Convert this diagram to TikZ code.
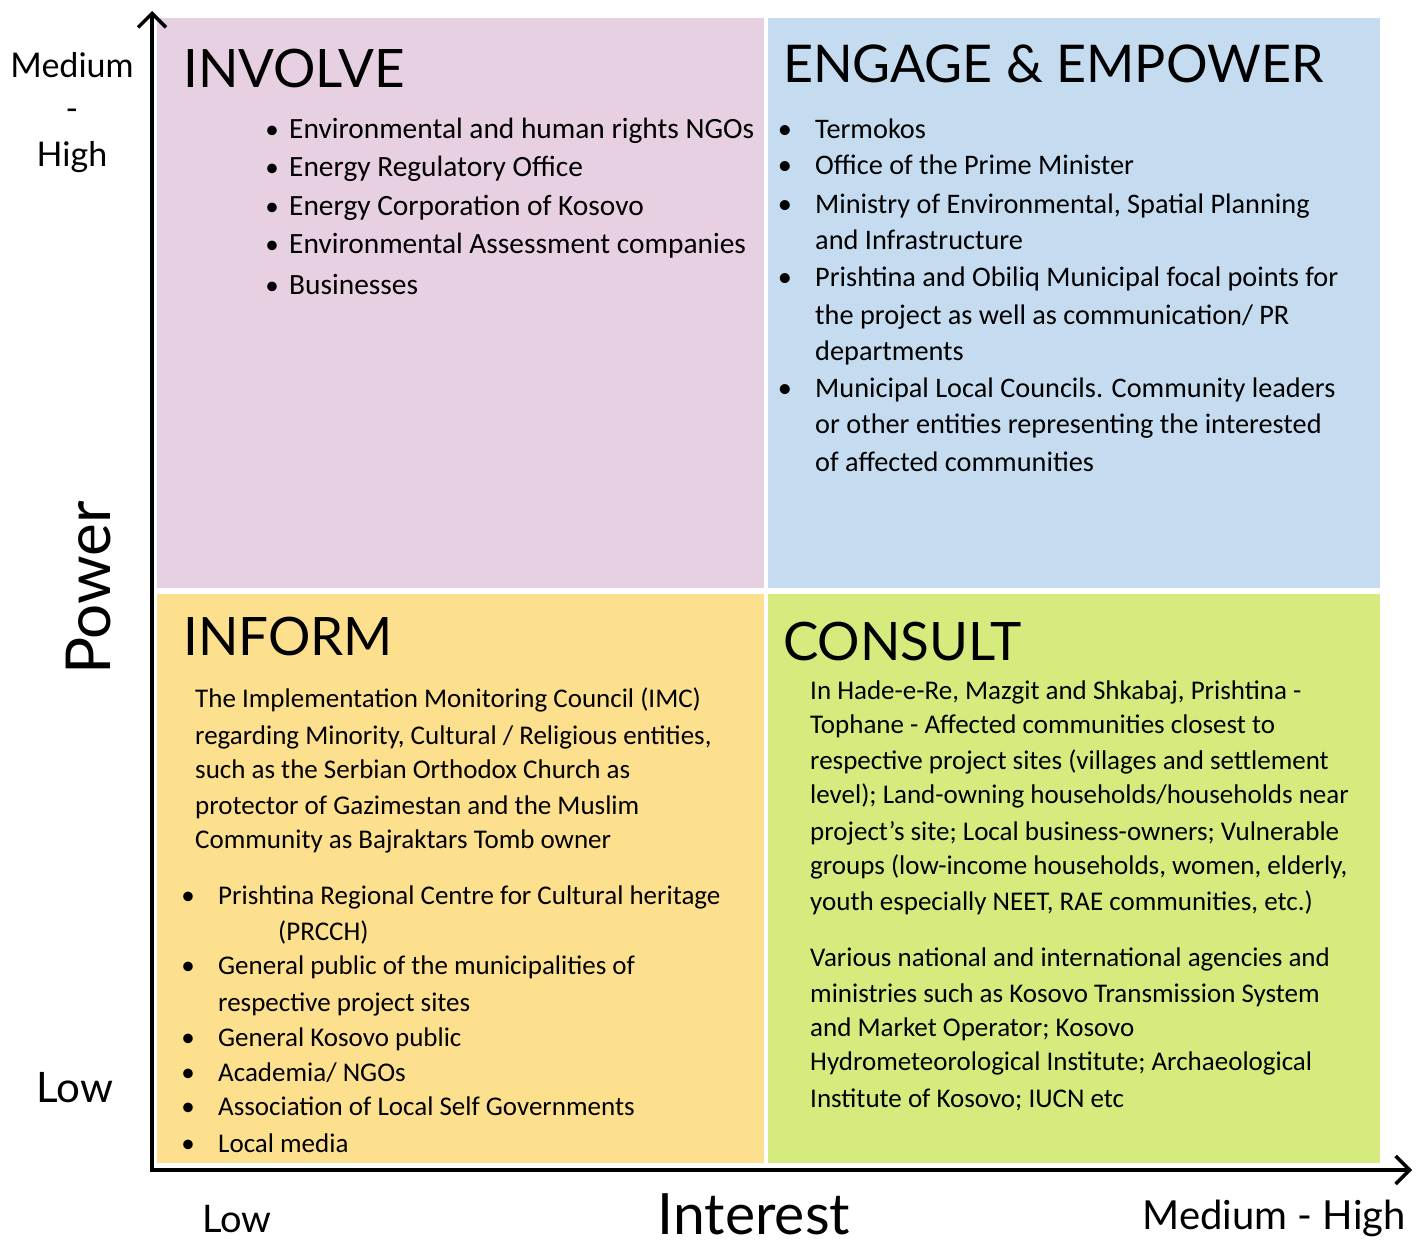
\documentclass[tikz,border=0pt]{standalone}
\usepackage{fontspec}
\setmainfont{Carlito}
\newfontfamily\gill{Lato}
\usetikzlibrary{arrows.meta}
\definecolor{qpink}{RGB}{230,208,226}
\definecolor{qblue}{RGB}{197,220,240}
\definecolor{qyellow}{RGB}{253,224,142}
\definecolor{qgreen}{RGB}{214,235,126}
\tikzset{
  ln/.style={font=\fontsize{#1}{30}\selectfont, anchor=base west, inner sep=0},
  ln/.default=27,
  bul/.style={font=\fontsize{#1}{30}\selectfont, anchor=base, inner sep=0},
  bul/.default=27,
  ttl/.style={font=\gill\fontsize{53}{60}\selectfont, anchor=base west, inner sep=0},
  axl/.style={font=\gill\fontsize{34}{40}\selectfont, inner sep=0, anchor=base},
  axis/.style={line width=4pt, -{Straight Barb[length=14pt,width=28pt,line width=3.5pt]}}
}
\begin{document}
\begin{tikzpicture}[x=1pt,y=-1pt]
\useasboundingbox (0,0) rectangle (1423,1245);
% quadrants
\fill[qpink]   (157,18) rectangle (764,588);
\fill[qblue]   (768,18) rectangle (1380,588);
\fill[qyellow] (157,594) rectangle (764,1163);
\fill[qgreen]  (768,594) rectangle (1380,1163);
% axes
\coordinate (ytop) at (152,11);
\coordinate (xend) at (1412,1170);
\coordinate (ybot) at (152,1172);
\coordinate (xbeg) at (150,1170);
\draw[axis] (ybot) -- (ytop);
\draw[axis] (xbeg) -- (xend);
% titles
\node[ttl] (tinv) at (183,87) {INVOLVE};
\node[ttl, font=\gill\fontsize{52}{60}\selectfont] (teng) at (783,82) {ENGAGE \& EMPOWER};
\node[ttl] (tinf) at (183,655) {INFORM};
\node[ttl] (tcon) at (783,660) {CONSULT};
% axis labels
\node[axl] (ymed) at (72,77) {Medium};
\node[axl] (ydash) at (72,120) {-};
\node[axl] (yhigh) at (72,166) {High};
\node[axl, font=\gill\fontsize{42}{48}\selectfont] (ylow) at (75,1102) {Low};
\node[axl, font=\gill\fontsize{62}{70}\selectfont, rotate=90] (ypow) at (110,588) {Power};
\node[axl, font=\gill\fontsize{38}{44}\selectfont] (xlow) at (237,1232) {Low};
\node[axl, font=\gill\fontsize{57}{64}\selectfont] (xint) at (754,1234) {Interest};
\node[axl, anchor=base east, font=\gill\fontsize{40}{46}\selectfont] (xmh) at (1406,1229) {Medium - High};
% INVOLVE list
\foreach \y/\t in {129/{Environmental and human rights NGOs},167/{Energy Regulatory Office},206/{Energy Corporation of Kosovo},244/{Environmental Assessment companies},285/{Businesses}}{
  \node[bul=27] (ib\y) at (272,\y+9) {\textbullet};
  \node[ln=29.4] (il\y) at (289,\y+9) {\t};
}
% ENGAGE list
\foreach \y in {129,165,204,277,388}{
  \node[bul=28.3] (eb\y) at (785,\y+9) {\textbullet};
}
\foreach \y/\t in {129/{Termokos},165/{Office of the Prime Minister},204/{Ministry of Environmental, Spatial Planning},240/{and Infrastructure},277/{Prishtina and Obiliq Municipal focal points for},315/{the project as well as communication/ PR},351/{departments},388/{Municipal Local Councils. Community leaders},424/{or other entities representing the interested},462/{of affected communities}}{
  \node[ln=28.3] (el\y) at (815,\y+9) {\t};
}
% INFORM paragraph
\foreach \y/\t in {699/{The Implementation Monitoring Council (IMC)},736/{regarding Minority, Cultural / Religious entities,},770/{such as the Serbian Orthodox Church as},806/{protector of Gazimestan and the Muslim},840/{Community as Bajraktars Tomb owner}}{
  \node[ln] (fp\y) at (195,\y+8) {\t};
}
% INFORM bullets
\foreach \y in {896,966,1038,1073,1107,1144}{
  \node[bul] (fb\y) at (188,\y+8) {\textbullet};
}
\foreach \y/\t in {896/{Prishtina Regional Centre for Cultural heritage},966/{General public of the municipalities of},1003/{respective project sites},1038/{General Kosovo public},1073/{Academia/ NGOs},1107/{Association of Local Self Governments},1144/{Local media}}{
  \node[ln] (fl\y) at (218,\y+8) {\t};
}
\node[ln] (fl932) at (278,940) {(PRCCH)};
% CONSULT paragraphs
\foreach \y/\t in {691/{In Hade-e-Re, Mazgit and Shkabaj, Prishtina -},725/{Tophane - Affected communities closest to},761/{respective project sites (villages and settlement},795/{level); Land-owning households/households near},832/{project’s site; Local business-owners; Vulnerable},866/{groups (low-income households, women, elderly,},902/{youth especially NEET, RAE communities, etc.)},958/{Various national and international agencies and},994/{ministries such as Kosovo Transmission System},1028/{and Market Operator; Kosovo},1062/{Hydrometeorological Institute; Archaeological},1099/{Institute of Kosovo; IUCN etc}}{
  \node[ln] (cl\y) at (810,\y+8) {\t};
}
\end{tikzpicture}
\end{document}
